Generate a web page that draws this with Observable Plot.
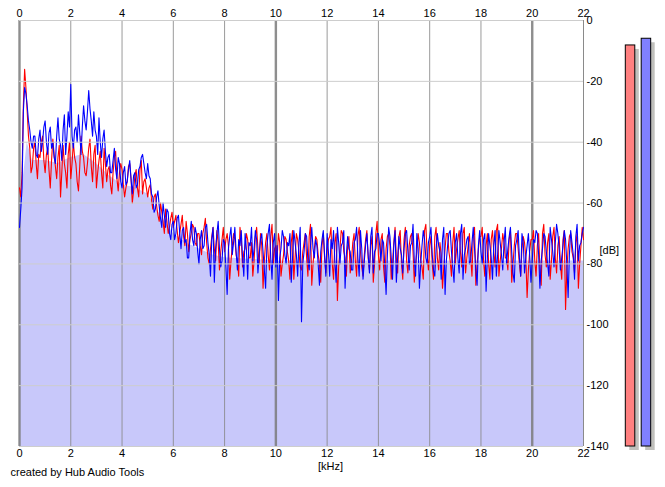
<!DOCTYPE html>
<html>
<head>
<meta charset="utf-8">
<script src="https://cdn.jsdelivr.net/npm/d3@7"></script>
<script src="https://cdn.jsdelivr.net/npm/@observablehq/plot@0.6"></script>
<style>
  html, body { margin: 0; padding: 0; background: #fff; }
</style>
</head>
<body>
<div id="chart"></div>
<script>
// Frequency grid step (kHz) for both channels
const freqStep = 0.05;

// Right channel (blue) spectrum, dB, from 0.00 to 22.00 kHz (one row per kHz)
const blueDb = [
  -68,-62,-55,-30,-22,-24,-28,-33,-36,-40,-42,-38,-38,-44,-45,-39,-36,-43,-40,-35,
  -33,-40,-44,-37,-35,-42,-40,-45,-47,-38,-32,-39,-41,-46,-36,-31,-44,-38,-30,-35,
  -21,-38,-42,-36,-35,-40,-31,-37,-44,-35,-28,-33,-36,-30,-23,-29,-33,-38,-30,-36,
  -38,-44,-32,-40,-45,-39,-36,-43,-48,-45,-44,-50,-50,-46,-42,-49,-52,-45,-47,-53,
  -55,-50,-48,-54,-53,-49,-46,-52,-57,-51,-50,-55,-54,-49,-48,-45,-44,-47,-50,-52,
  -47,-51,-52,-57,-58,-63,-62,-58,-56,-61,-65,-68,-60,-64,-68,-62,-63,-70,-72,-67,
  -66,-72,-70,-65,-64,-70,-75,-69,-68,-73,-72,-78,-78,-70,-66,-72,-74,-68,-70,-76,
  -80,-72,-69,-75,-74,-68,-67,-73,-77,-84,-72,-68,-86,-75,-70,-66,-75,-81,-79,-72,
  -73,-81,-90,-75,-71,-68,-77,-73,-68,-76,-82,-72,-74,-69,-78,-84,-70,-75,-85,-73,
  -74,-68,-79,-75,-69,-72,-83,-77,-72,-70,-76,-82,-88,-74,-70,-67,-78,-85,-73,-70,
  -81,-74,-92,-78,-75,-69,-71,-77,-80,-73,-74,-70,-86,-78,-69,-73,-77,-84,-73,-68,
  -99,-80,-76,-70,-71,-79,-82,-74,-68,-75,-78,-72,-74,-80,-87,-76,-72,-69,-77,-84,
  -70,-76,-84,-72,-75,-69,-79,-86,-68,-73,-80,-74,-73,-69,-88,-77,-71,-75,-76,-82,
  -82,-73,-72,-68,-78,-84,-69,-75,-85,-79,-74,-70,-77,-83,-71,-68,-83,-76,-75,-70,
  -70,-74,-79,-72,-73,-81,-90,-77,-68,-71,-78,-85,-74,-69,-86,-78,-71,-75,-77,-83,
  -75,-70,-69,-76,-82,-74,-73,-67,-79,-84,-70,-75,-88,-80,-74,-69,-72,-78,-80,-73,
  -71,-68,-77,-82,-84,-75,-70,-74,-76,-85,-72,-68,-90,-79,-74,-70,-69,-76,-81,-86,
  -73,-70,-78,-83,-70,-67,-85,-77,-75,-72,-71,-80,-79,-73,-68,-75,-82,-87,-74,-69,
  -76,-80,-72,-70,-89,-78,-70,-74,-78,-85,-74,-69,-84,-77,-69,-73,-77,-82,-73,-68,
  -80,-75,-71,-68,-76,-83,-86,-74,-72,-69,-78,-84,-70,-73,-83,-78,-74,-70,-77,-86,
  -79,-72,-73,-69,-70,-77,-88,-79,-75,-70,-71,-76,-80,-84,-68,-72,-76,-81,-73,-67,
  -70,-75,-82,-78,-74,-69,-72,-80,-91,-77,-69,-73,-77,-85,-71,-67,-79,-74,-73,-70,
  -68
];

// Left channel (red) spectrum, dB, from 0.00 to 22.00 kHz (one row per kHz)
const redDb = [
  -55,-58,-50,-28,-16,-22,-30,-38,-42,-50,-48,-42,-40,-47,-52,-44,-45,-40,-38,-46,
  -50,-44,-42,-49,-55,-46,-39,-44,-48,-52,-45,-41,-58,-50,-41,-47,-50,-55,-44,-40,
  -52,-47,-40,-45,-47,-53,-56,-48,-38,-43,-45,-50,-51,-47,-42,-39,-48,-53,-44,-41,
  -55,-50,-46,-43,-50,-55,-42,-47,-53,-49,-48,-54,-57,-50,-45,-43,-52,-56,-50,-47,
  -49,-54,-58,-55,-53,-48,-47,-52,-60,-56,-51,-49,-55,-58,-49,-46,-57,-53,-52,-55,
  -58,-55,-54,-59,-62,-58,-57,-61,-64,-66,-60,-63,-66,-70,-62,-66,-70,-68,-65,-63,
  -68,-66,-64,-69,-73,-70,-67,-64,-71,-74,-66,-70,-76,-72,-70,-67,-68,-73,-74,-70,
  -70,-74,-77,-70,-68,-65,-73,-78,-80,-75,-71,-68,-75,-79,-69,-73,-82,-76,-72,-68,
  -76,-72,-70,-74,-85,-79,-74,-70,-72,-77,-79,-84,-68,-72,-81,-76,-75,-70,-72,-78,
  -78,-73,-84,-79,-71,-68,-75,-80,-70,-74,-88,-79,-73,-70,-77,-82,-71,-67,-80,-75,
  -74,-78,-70,-73,-84,-80,-77,-71,-72,-76,-79,-85,-73,-69,-85,-78,-70,-72,-76,-81,
  -82,-76,-73,-70,-78,-84,-71,-67,-87,-80,-75,-71,-72,-77,-80,-86,-74,-70,-78,-83,
  -76,-72,-71,-68,-80,-85,-73,-70,-92,-81,-75,-69,-70,-76,-78,-84,-74,-71,-83,-79,
  -73,-70,-79,-84,-71,-68,-76,-81,-84,-77,-72,-69,-78,-82,-74,-71,-86,-80,-70,-66,
  -77,-82,-72,-70,-81,-86,-75,-71,-70,-74,-85,-80,-73,-68,-78,-83,-71,-69,-80,-85,
  -72,-68,-79,-83,-74,-71,-70,-76,-86,-80,-76,-70,-73,-79,-81,-85,-69,-67,-77,-82,
  -74,-71,-80,-85,-71,-68,-78,-82,-73,-77,-88,-81,-75,-70,-70,-76,-79,-84,-73,-68,
  -80,-75,-72,-69,-76,-81,-70,-68,-83,-78,-74,-70,-78,-84,-71,-68,-87,-80,-75,-71,
  -71,-68,-79,-84,-74,-70,-80,-85,-72,-69,-76,-81,-69,-67,-84,-79,-75,-70,-73,-78,
  -78,-82,-72,-69,-86,-80,-74,-70,-70,-75,-80,-84,-75,-71,-73,-78,-91,-82,-76,-72,
  -72,-69,-79,-84,-74,-70,-82,-87,-70,-67,-77,-81,-73,-70,-85,-79,-71,-68,-78,-83,
  -74,-71,-80,-85,-72,-69,-95,-82,-75,-71,-70,-76,-78,-83,-73,-70,-88,-80,-74,-68,
  -72
];

// Averaged (filled) spectrum
const fillFreq = [0, 0.2, 0.3, 0.5, 1, 1.5, 2, 2.5, 3, 3.5, 4, 4.5, 5, 5.5, 6, 6.5, 7, 7.5, 8, 10, 12, 14, 16, 18, 20, 22];
const fillDb   = [-62, -48, -40, -46, -46, -47, -45, -44, -47, -51, -54, -55, -57, -64, -70, -73, -75, -77, -78, -79, -79, -79, -79, -79, -79, -79];

// Level meters (L, R) peak level in dB
const meterNames = ["L", "R"];
const meterDb = [-8.2, -6];

const xTicks = d3.range(0, 23, 2);
const yTicks = d3.range(-140, 1, 20);

const redRows = redDb.map((v, i) => ({f: i * freqStep, db: v}));
const blueRows = blueDb.map((v, i) => ({f: i * freqStep, db: v}));
const fillRows = fillFreq.map((f, i) => ({f, db: fillDb[i]}));
const meterColors = ["#ff8080", "#8080ff"];
const meterStart = [23.65, 24.27];
const meterWidth = 0.37;
const meterRows = meterNames.map((n, i) => ({
  name: n, db: meterDb[i], x1: meterStart[i], x2: meterStart[i] + meterWidth, color: meterColors[i]
}));

const chart = Plot.plot({
  width: 665,
  height: 487,
  marginLeft: 19,
  marginRight: 82,
  marginTop: 20,
  marginBottom: 41,
  style: {fontFamily: "'Liberation Sans', Arial, sans-serif", fontSize: "11px", background: "#fff", color: "#000"},
  x: {domain: [0, 22]},
  y: {domain: [-140, 0]},
  marks: [
    Plot.areaY(fillRows, {x: "f", y1: -140, y2: "db", fill: "#c8c8fa"}),
    Plot.ruleX(xTicks.filter(d => d % 10 !== 0), {stroke: "#8a8a8a", strokeWidth: 1, strokeOpacity: 0.85}),
    Plot.ruleX(xTicks.filter(d => d % 10 === 0), {stroke: "#7a7a7a", strokeWidth: 2.4, strokeOpacity: 0.85}),
    Plot.ruleX([22], {stroke: "#8a8a8a", strokeWidth: 1}),
    Plot.line(redRows, {x: "f", y: "db", stroke: "#ff0000", strokeWidth: 1.1}),
    Plot.line(blueRows, {x: "f", y: "db", stroke: "#0000ff", strokeWidth: 1.1}),
    Plot.ruleY(yTicks, {stroke: "#cdcdcd", strokeWidth: 1}),
    // level meters with shadow
    Plot.rect(meterRows, {x1: "x1", x2: "x2", y1: -140, y2: "db", fill: "#c0c0bc", dx: 4, dy: 4}),
    Plot.rect(meterRows, {x1: "x1", x2: "x2", y1: -140, y2: "db", fill: "color", stroke: "#000", strokeWidth: 1}),
    Plot.axisX(xTicks, {anchor: "top", tickSize: 0, tickPadding: 4, tickFormat: d => String(d), label: null}),
    Plot.axisX(xTicks, {anchor: "bottom", tickSize: 0, tickPadding: 3, tickFormat: d => String(d), label: null}),
    Plot.axisY(yTicks, {anchor: "right", tickSize: 0, tickPadding: 3, tickFormat: d => String(d), label: null}),
    Plot.text(["[dB]"], {x: 22, y: -75.6, dx: 16, textAnchor: "start"}),
    Plot.text(["[kHz]"], {frameAnchor: "bottom", dx: 29, dy: 23}),
    Plot.text(["created by Hub Audio Tools"], {frameAnchor: "bottom-left", dx: -9, dy: 29, textAnchor: "start"})
  ]
});
document.getElementById("chart").appendChild(chart);
</script>
</body>
</html>
